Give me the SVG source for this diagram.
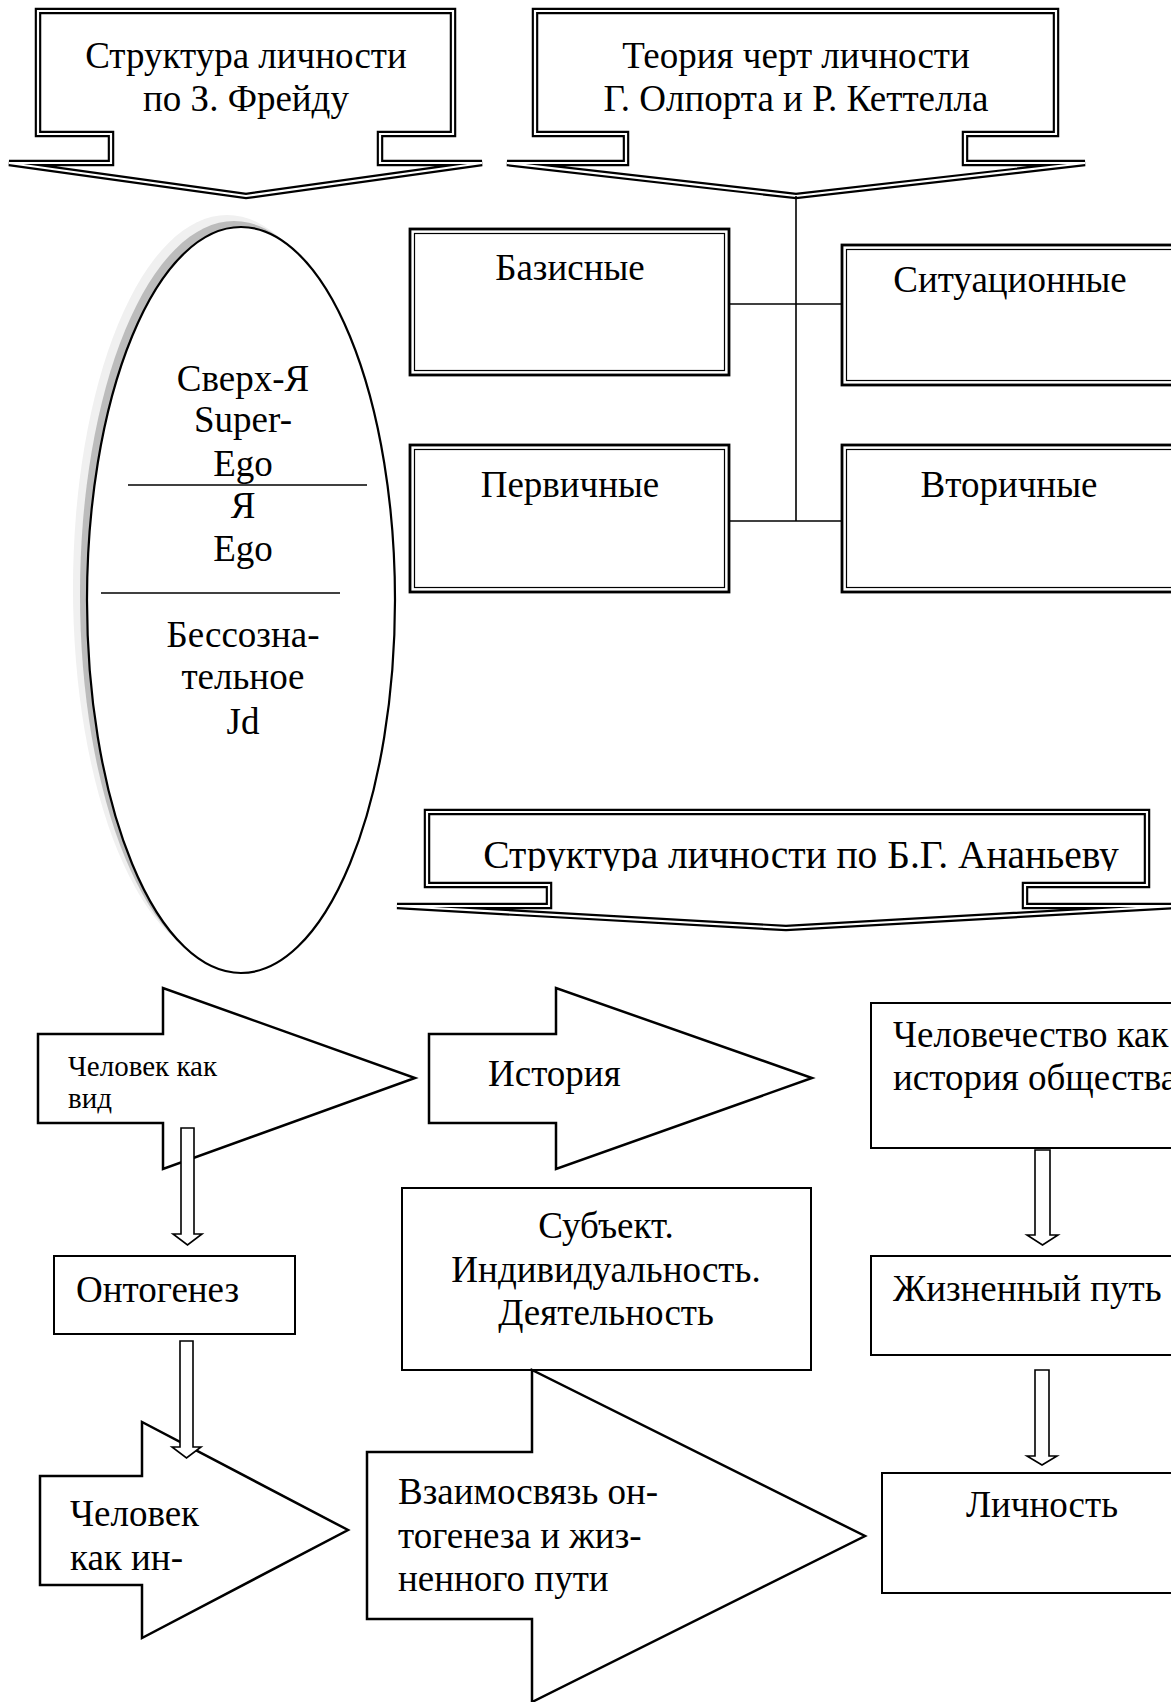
<svg xmlns="http://www.w3.org/2000/svg" width="1171" height="1702" viewBox="0 0 1171 1702">
<defs>
<style>
.t{font-family:"Liberation Serif","Times New Roman",serif;font-size:37px;fill:#000}
.m{text-anchor:middle}
.sm{font-size:29px}
.big{font-size:39.5px}
.bo{fill:#fff;stroke:#000;stroke-width:6.5;stroke-linejoin:miter}
.bi{fill:none;stroke:#fff;stroke-width:2.2}
.ro{fill:#fff;stroke:#000;stroke-width:2.8}
.ri{fill:none;stroke:#000;stroke-width:1.2}
.box{fill:#fff;stroke:#000;stroke-width:2}
.arr{fill:#fff;stroke:#000;stroke-width:2.5;stroke-linejoin:miter}
.sarr{fill:#fff;stroke:#000;stroke-width:1.6}
.ln{stroke:#000;stroke-width:1.6;fill:none}
</style>
<path id="b1" d="M38,11 H453 V134 H380 V163 H482 L246,196 L9,163 H111 V134 H38 Z"/>
<path id="b2" d="M535,11 H1056 V134 H965 V163 H1085 L796,196 L507,163 H626 V134 H535 Z"/>
<path id="b3" d="M427,812 H1147 V885 H1025 V906 H1175 L786,928 L397,906 H549 V885 H427 Z"/>
<clipPath id="c3"><rect x="430" y="815" width="714" height="56"/></clipPath>
</defs>

<g id="freud-banner">
<use href="#b1" class="bo"/>
<use href="#b1" class="bi"/>
<text class="t m" x="246" y="68">Структура личности</text>
<text class="t m" x="246" y="111">по З. Фрейду</text>
</g>

<g id="allport-banner">
<use href="#b2" class="bo"/>
<use href="#b2" class="bi"/>
<text class="t m" x="796" y="68">Теория черт личности</text>
<text class="t m" x="796" y="111">Г. Олпорта и Р. Кеттелла</text>
</g>

<g id="freud-ellipse">
<ellipse cx="227" cy="588" rx="154" ry="373" fill="#f0f0f0"/>
<ellipse cx="234" cy="594" rx="154" ry="373" fill="#bcbcbc"/>
<ellipse cx="241" cy="600" rx="154" ry="373" fill="#fff" stroke="#000" stroke-width="2.2"/>
<line class="ln" x1="128" y1="485" x2="367" y2="485"/>
<line class="ln" x1="101" y1="593" x2="340" y2="593"/>
<text class="t m" x="243" y="391">Сверх-Я</text>
<text class="t m" x="243" y="432">Super-</text>
<text class="t m" x="243" y="476">Ego</text>
<text class="t m" x="243" y="518">Я</text>
<text class="t m" x="243" y="561">Ego</text>
<text class="t m" x="243" y="647">Бессозна-</text>
<text class="t m" x="243" y="689">тельное</text>
<text class="t m" x="243" y="734">Jd</text>
</g>

<g id="basic">
<rect class="ro" x="410" y="229" width="319" height="146"/>
<rect class="ri" x="414.5" y="233.5" width="310" height="137"/>
<text class="t m" x="570" y="280">Базисные</text>
</g>
<g id="situational">
<rect class="ro" x="842" y="245" width="340" height="140"/>
<rect class="ri" x="846.5" y="249.5" width="340" height="131"/>
<text class="t m" x="1010" y="292">Ситуационные</text>
</g>
<g id="primary">
<rect class="ro" x="410" y="445" width="319" height="147"/>
<rect class="ri" x="414.5" y="449.5" width="310" height="138"/>
<text class="t m" x="570" y="497">Первичные</text>
</g>
<g id="secondary">
<rect class="ro" x="842" y="445" width="340" height="147"/>
<rect class="ri" x="846.5" y="449.5" width="340" height="138"/>
<text class="t m" x="1009" y="497">Вторичные</text>
</g>

<g id="ananiev-banner">
<use href="#b3" class="bo"/>
<use href="#b3" class="bi"/>
<text class="t m big" x="801" y="868" clip-path="url(#c3)">Структура личности по Б.Г. Ананьеву</text>
</g>

<g id="human-species">
<polygon class="arr" points="38,1034 163,1034 163,988 415,1078 163,1169 163,1123 38,1123"/>
<text class="t sm" x="68" y="1076">Человек как</text>
<text class="t sm" x="68" y="1108">вид</text>
</g>

<g id="history">
<polygon class="arr" points="429,1034 556,1034 556,988 812,1078 556,1169 556,1123 429,1123"/>
<text class="t" x="488" y="1086">История</text>
</g>

<g id="humanity">
<rect class="box" x="871" y="1003" width="310" height="145"/>
<text class="t" x="893" y="1047">Человечество как</text>
<text class="t" x="893" y="1090">история общества</text>
</g>

<g id="ontogenesis">
<rect class="box" x="54" y="1256" width="241" height="78"/>
<text class="t" x="76" y="1302">Онтогенез</text>
</g>

<g id="subject">
<rect class="box" x="402" y="1188" width="409" height="182"/>
<text class="t m" x="606" y="1238">Субъект.</text>
<text class="t m" x="606" y="1282">Индивидуальность.</text>
<text class="t m" x="606" y="1325">Деятельность</text>
</g>

<g id="life-path">
<rect class="box" x="871" y="1256" width="310" height="99"/>
<text class="t" x="893" y="1301">Жизненный путь</text>
</g>

<g id="human-individual">
<polygon class="arr" points="40,1476 142,1476 142,1422 348,1530 142,1638 142,1585 40,1585"/>
<text class="t" x="70" y="1526">Человек</text>
<text class="t" x="70" y="1570">как ин-</text>
</g>

<g id="interrelation">
<polygon class="arr" points="367,1452 532,1452 532,1370 865,1536 532,1702 532,1619 367,1619"/>
<text class="t" x="398" y="1504">Взаимосвязь он-</text>
<text class="t" x="398" y="1548">тогенеза и жиз-</text>
<text class="t" x="398" y="1591">ненного пути</text>
</g>

<g id="personality">
<rect class="box" x="882" y="1473" width="300" height="120"/>
<text class="t m" x="1042" y="1517">Личность</text>
</g>

<g id="connectors">
<line class="ln" x1="796" y1="196" x2="796" y2="521"/>
<line class="ln" x1="729" y1="304" x2="842" y2="304"/>
<line class="ln" x1="729" y1="521" x2="842" y2="521"/>
<path class="sarr" d="M181,1128 H194 V1234 H202 L187.5,1245 L173,1234 H181 Z"/>
<path class="sarr" d="M180,1341 H193 V1447 H201 L186.5,1458 L172,1447 H180 Z"/>
<path class="sarr" d="M1035,1150 H1050 V1235 H1058 L1042.5,1245 L1027,1235 H1035 Z"/>
<path class="sarr" d="M1035,1370 H1049 V1456 H1057 L1042,1465 L1027,1456 H1035 Z"/>
</g>
</svg>
